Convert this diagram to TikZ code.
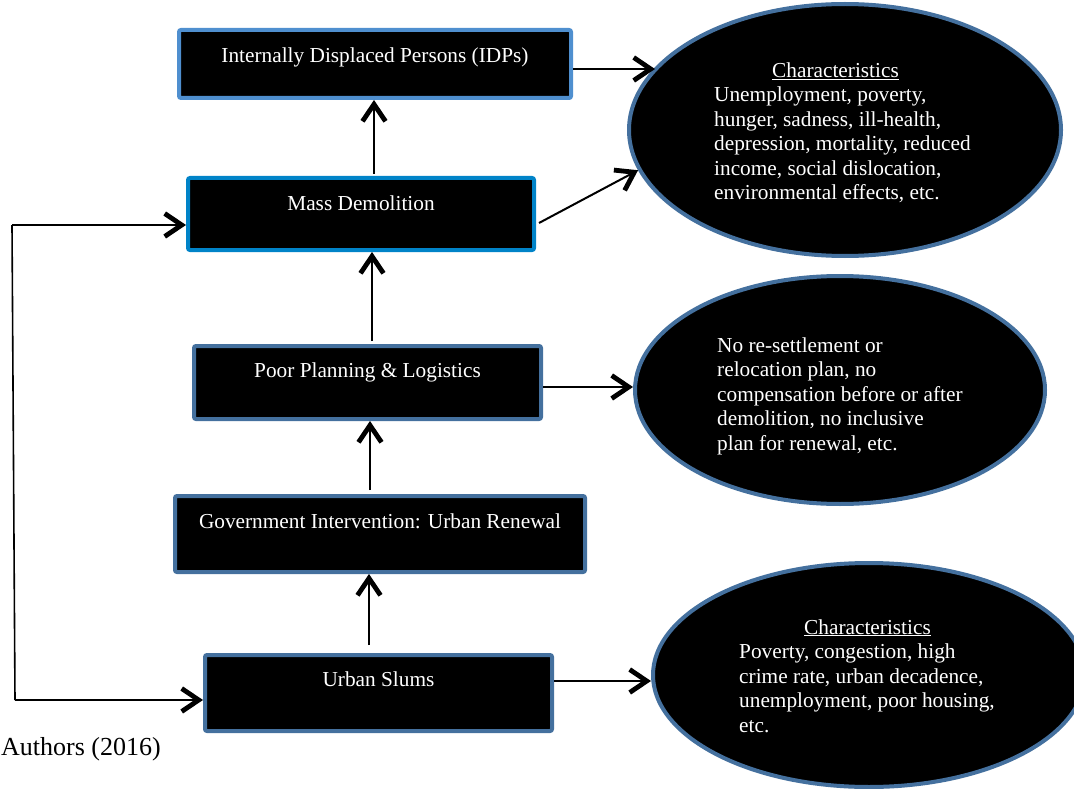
\documentclass[tikz,border=0pt]{standalone}
\usepackage{fontspec}
\setmainfont{Liberation Serif}
\usetikzlibrary{shapes.geometric,arrows.meta,calc}
\definecolor{bA}{HTML}{4F8FCF}
\definecolor{bB}{HTML}{0083C8}
\definecolor{bC}{HTML}{44709E}
\newcommand{\figfont}{\fontsize{21.3}{24.5}\selectfont}
\tikzset{
  box/.style={draw=bC, line width=4pt, fill=black, rounded corners=2pt, text=white,
    inner ysep=0pt, inner xsep=0pt, minimum height=0pt, font=\figfont, anchor=base},
  oval/.style={ellipse, draw=bC, line width=4pt, fill=black, inner sep=0pt},
  arr/.style={line width=2pt, -{Straight Barb[length=17pt,width=23pt,line width=4.8pt]}},
  loopline/.style={line width=1.6pt},
  note/.style={text=white, font=\figfont, inner sep=0pt, anchor=base west},
}
\begin{document}
\begin{tikzpicture}[x=1pt,y=-1pt]
\useasboundingbox (0,0) rectangle (1074,789);
\clip (0,0) rectangle (1074,789);
% ellipses
\node[oval, minimum width=432pt, minimum height=252pt] (e1) at (845,130) {};
\node[oval, minimum width=410pt, minimum height=228pt] (e2) at (840,390) {};
\node[oval, minimum width=432pt, minimum height=224pt] (e3) at (869,675) {};
\node[note] (t1) at (714,77.5) {\begin{tabular}[t]{@{}l@{}}\hspace*{58pt}\underline{Characteristics}\\
Unemployment, poverty,\\ hunger, sadness, ill-health,\\ depression, mortality, reduced\\
income, social dislocation,\\ environmental effects, etc.\end{tabular}};
\node[note] (t2) at (717,352) {\begin{tabular}[t]{@{}l@{}}No re-settlement or\\ relocation plan, no\\
compensation before or after\\ demolition, no inclusive\\ plan for renewal, etc.\end{tabular}};
\node[note] (t3) at (739,634) {\begin{tabular}[t]{@{}l@{}}\hspace*{65pt}\underline{Characteristics}\\
Poverty, congestion, high\\ crime rate, urban decadence,\\ unemployment, poor housing,\\ etc.\end{tabular}};
% boxes
\node[box, draw=bA, minimum width=392pt, text height=33pt, text depth=35pt] (idp) at (375,63) {Internally Displaced Persons (IDPs)};
\node[box, draw=bB, minimum width=346pt, text height=32pt, text depth=40pt] (mass) at (361,210) {Mass Demolition};
\node[box, minimum width=347pt, text height=31pt, text depth=42pt] (poor) at (367.5,377) {Poor Planning \& Logistics};
\node[box, minimum width=410pt, text height=32pt, text depth=44pt] (gov) at (380,528) {Government Intervention: Urban Renewal};
\node[box, minimum width=347pt, text height=31pt, text depth=45pt] (slums) at (378.5,686) {Urban Slums};
% vertical arrows
\draw[arr, shorten <=8pt] (slums.north -| 369,0) -- (gov.south -| 369,0);
\draw[arr, shorten <=4pt] (gov.north -| 370,0) -- (poor.south -| 370,0);
\draw[arr, shorten <=3pt] (poor.north -| 372,0) -- (mass.south -| 372,0);
\draw[arr, shorten <=2pt] (mass.north -| 374,0) -- (idp.south -| 374,0);
% arrows to ellipses
\draw[arr, shorten >=-28pt] (idp.east |- 0,69) -- (e1.west |- 0,69);
\draw[arr] ($(mass.east)+(3,9)$) -- (e1.191.7);
\draw[arr] (poor.east |- 0,387) -- (e2.west |- 0,387);
\draw[arr] (slums.east |- 0,681) -- (e3.west |- 0,681);
% feedback loop
\coordinate (lt) at (12,225);
\coordinate (lb) at (15,700);
\draw[loopline] (lt) -- (lb);
\draw[arr, line width=1.6pt] (lt) -- (mass.west |- lt);
\draw[arr, line width=1.6pt] (lb) -- (slums.west |- lb);
% source
\node[font=\fontsize{26}{30}\selectfont, inner sep=0pt, anchor=base west] (src) at (1,755) {Authors (2016)};
\end{tikzpicture}
\end{document}
